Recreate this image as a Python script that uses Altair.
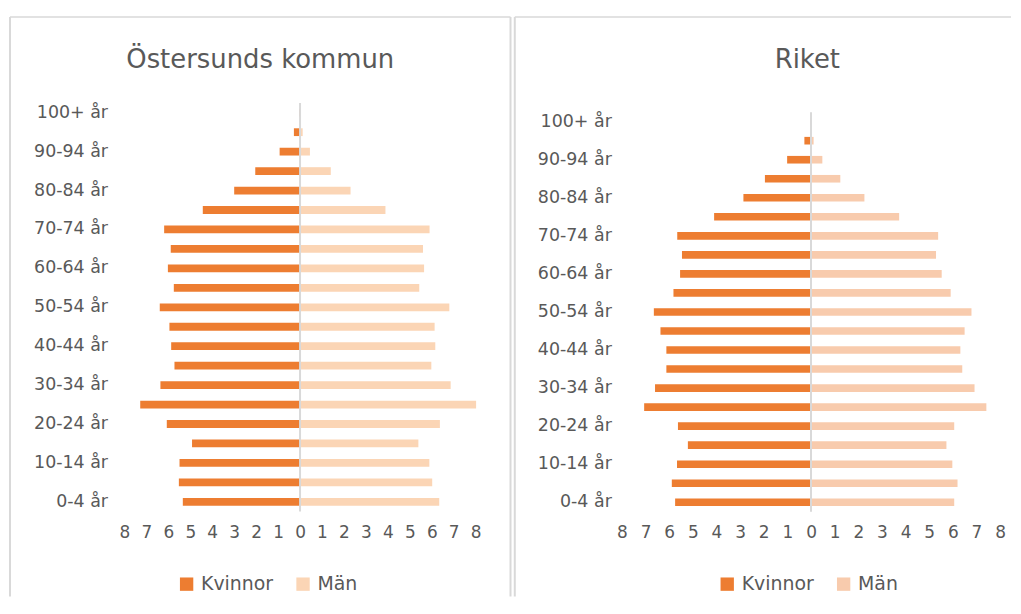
import altair as alt
import pandas as pd

# ---------------- data ----------------
ages = ["0-4 år", "5-9 år", "10-14 år", "15-19 år", "20-24 år", "25-29 år",
        "30-34 år", "35-39 år", "40-44 år", "45-49 år", "50-54 år", "55-59 år",
        "60-64 år", "65-69 år", "70-74 år", "75-79 år", "80-84 år", "85-89 år",
        "90-94 år", "95-99 år", "100+ år"]
shown_ages = ages[::2]
sexes = ["Kvinnor", "Män"]
x_ticks = list(range(-8, 9))
titles = ["Östersunds kommun", "Riket"]

ost_kvinnor = [5.34, 5.52, 5.49, 4.92, 6.07, 7.28, 6.36, 5.72, 5.87, 5.95, 6.39,
               5.75, 6.02, 5.89, 6.19, 4.43, 3.00, 2.04, 0.93, 0.28, 0.03]
ost_man = [6.34, 6.02, 5.89, 5.39, 6.37, 8.02, 6.86, 5.98, 6.16, 6.13, 6.80,
           5.43, 5.65, 5.60, 5.90, 3.89, 2.30, 1.40, 0.45, 0.12, 0.01]
riket_kvinnor = [5.75, 5.89, 5.67, 5.21, 5.63, 7.06, 6.60, 6.12, 6.12, 6.37, 6.65,
                 5.82, 5.54, 5.46, 5.66, 4.10, 2.86, 1.95, 1.01, 0.28, 0.03]
riket_man = [6.06, 6.20, 5.98, 5.73, 6.06, 7.42, 6.92, 6.40, 6.32, 6.50, 6.79,
             5.91, 5.53, 5.29, 5.38, 3.73, 2.26, 1.24, 0.48, 0.11, 0.01]

# ---------------- style ----------------
FONT = "DejaVu Sans"
GRAY = "#595959"
BORDER = "#D9D9D9"
ORANGE = "#ED7D31"
PLOT_H = 410.6


def x_axis():
    return alt.Axis(values=x_ticks, labelExpr="abs(datum.value) + ''",
                    grid=False, domain=False, ticks=False,
                    labelPadding=13, labelFontSize=17, labelFont=FONT,
                    labelColor=GRAY, labelFlush=False,
                    labelOverlap=False, title=None)


def panel(kv, ma, title, width, y_range, lab_pad, man_color, legend_x, title_x,
          left_x, right_x, top_right):
    df = pd.DataFrame({
        "age": ages * 2,
        "sex": ["Kvinnor"] * len(ages) + ["Män"] * len(ages),
        "value": [-v for v in kv] + list(ma),
    })
    one = pd.DataFrame({"value": [0]})
    xscale = alt.Scale(domain=[-8, 8], nice=False)

    yscale = dict(domain=ages[::-1], paddingInner=0.6, paddingOuter=0.3)
    if y_range is not None:
        yscale["range"] = y_range

    bars = alt.Chart(df).mark_bar().encode(
        x=alt.X("value:Q", stack=None, scale=xscale, axis=x_axis()),
        y=alt.Y("age:N", sort=ages[::-1], scale=alt.Scale(**yscale),
                axis=alt.Axis(values=shown_ages, domain=False, ticks=False,
                              grid=False, labelPadding=lab_pad, labelFontSize=17.5,
                              labelFont=FONT, labelColor=GRAY, title=None)),
        color=alt.Color("sex:N",
                        scale=alt.Scale(domain=sexes, range=[ORANGE, man_color]),
                        legend=alt.Legend(orient="none", legendX=legend_x,
                                          legendY=473.8, direction="horizontal",
                                          symbolType="square", symbolSize=180,
                                          symbolStrokeWidth=0, symbolOpacity=1,
                                          labelFont=FONT, labelFontSize=19,
                                          labelColor=GRAY, labelOffset=5,
                                          columnPadding=20, padding=0,
                                          title=None)),
    )

    y0 = y_range[0] if y_range is not None else 0
    y1 = y_range[1] if y_range is not None else PLOT_H
    zero = alt.Chart(one).mark_rule(color=BORDER, strokeWidth=2).encode(
        x=alt.X("value:Q", scale=xscale, axis=x_axis()),
        y=alt.value(y0), y2=alt.value(y1))

    top_rule = alt.Chart(one).mark_rule(color=BORDER, strokeWidth=1.5).encode(
        x=alt.value(left_x), x2=alt.value(top_right), y=alt.value(-86.5))
    left_rule = alt.Chart(one).mark_rule(color=BORDER, strokeWidth=2).encode(
        x=alt.value(left_x), y=alt.value(-86.5), y2=alt.value(496))
    layers = [top_rule, left_rule]
    if right_x is not None:
        layers.append(alt.Chart(one).mark_rule(color=BORDER, strokeWidth=2).encode(
            x=alt.value(right_x), y=alt.value(-86.5), y2=alt.value(496)))

    ttl = alt.Chart(pd.DataFrame({"t": [title]})).mark_text(
        font=FONT, fontSize=26, color=GRAY, align="center", baseline="alphabetic"
    ).encode(x=alt.value(title_x), y=alt.value(-35.5), text="t:N")

    return alt.layer(*layers, bars, zero, ttl).properties(width=width, height=PLOT_H)


left = panel(ost_kvinnor, ost_man, titles[0], 353, None, 17, "#FBD5B5",
             53, 136.5, -115, 388, 388)
right = panel(riket_kvinnor, riket_man, titles[1], 380, [9.2, 410.8], 10.7, "#F8CBAD",
              96.3, 186.3, -107.7, None, 391)

chart = alt.hconcat(left, right, spacing=0).resolve_scale(
    color="independent", x="independent", y="independent"
).configure_view(stroke="transparent").configure_axis(
    labelOverlap=False
).properties(
    padding={"left": 0, "top": 6, "right": 0, "bottom": 0}
)

chart.save("out.html", embed_options={"renderer": "svg", "actions": False})
